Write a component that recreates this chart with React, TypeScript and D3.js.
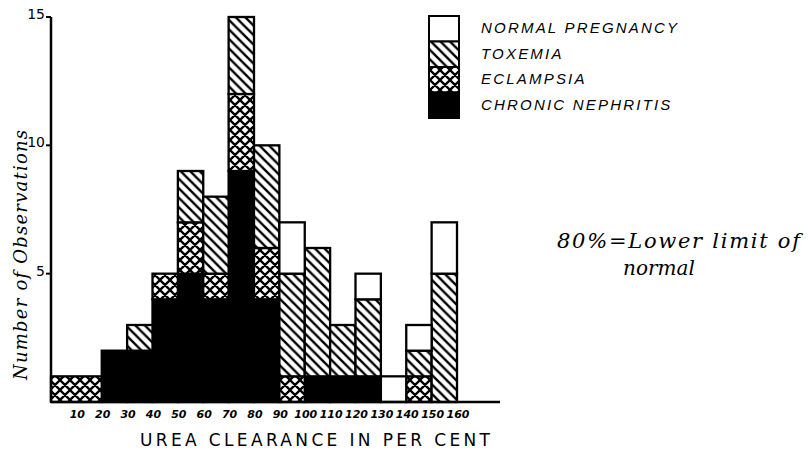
import React from "react";
import * as d3 from "d3";

const binStart = [0, 20, 30, 40, 50, 60, 70, 80, 90, 100, 110, 120, 130, 140, 150];
const binEnd = [20, 30, 40, 50, 60, 70, 80, 90, 100, 110, 120, 130, 140, 150, 160];
const chronicNephritis = [0, 2, 2, 4, 5, 4, 9, 4, 0, 1, 1, 1, 0, 0, 0];
const eclampsia = [1, 0, 0, 1, 2, 1, 3, 2, 1, 0, 0, 0, 0, 1, 0];
const toxemia = [0, 0, 1, 0, 2, 3, 3, 4, 4, 5, 2, 3, 0, 1, 5];
const normalPregnancy = [0, 0, 0, 0, 0, 0, 0, 0, 2, 0, 0, 1, 1, 1, 2];
const seriesKeys = ["chronic", "eclampsia", "toxemia", "normal"];
const legendLabels = ["NORMAL PREGNANCY", "TOXEMIA", "ECLAMPSIA", "CHRONIC NEPHRITIS"];
const legendKeys = ["normal", "toxemia", "eclampsia", "chronic"];
const xTicks = [10, 20, 30, 40, 50, 60, 70, 80, 90, 100, 110, 120, 130, 140, 150, 160];
const yTicks = [5, 10, 15];

const fills: Record<string, string> = {
  chronic: "#000",
  eclampsia: "url(#cross)",
  toxemia: "url(#diag)",
  normal: "#fff",
};

export default function App() {
  const W = 808, H = 458;
  const x = d3.scaleLinear().domain([0, 160]).range([51, 457]);
  const y = d3.scaleLinear().domain([0, 15]).range([402, 17]);

  const rows = binStart.map((s, i) => ({
    start: s,
    end: binEnd[i],
    chronic: chronicNephritis[i],
    eclampsia: eclampsia[i],
    toxemia: toxemia[i],
    normal: normalPregnancy[i],
  }));
  const stacked = d3.stack<any>().keys(seriesKeys)(rows);

  const ly = d3.scaleBand().domain(legendLabels).range([16, 118]).paddingInner(0);

  return (
    <svg width={W} height={H} style={{ display: "block", position: "absolute", left: 0, top: 0, background: "#fff" }}>
      <defs>
        <pattern id="diag" patternUnits="userSpaceOnUse" width="9.5" height="9.5">
          <rect width="9.5" height="9.5" fill="#fff" />
          <path d="M-2,-2 L11.5,11.5 M-2,7.5 L2,11.5 M7.5,-2 L11.5,2" stroke="#000" strokeWidth="2.4" />
        </pattern>
        <pattern id="cross" patternUnits="userSpaceOnUse" width="10" height="10">
          <rect width="10" height="10" fill="#fff" />
          <path d="M-2,-2 L12,12 M-2,8 L2,12 M8,-2 L12,2 M-2,12 L12,-2 M-2,2 L2,-2 M8,12 L12,8" stroke="#000" strokeWidth="2.3" />
        </pattern>
      </defs>
      <rect width={W} height={H} fill="#fff" />

      {stacked.map((layer) =>
        layer.map((d, i) => {
          const v = d[1] - d[0];
          if (v <= 0) return null;
          const r = rows[i];
          return (
            <rect
              key={layer.key + i}
              x={x(r.start)}
              y={y(d[1])}
              width={x(r.end) - x(r.start)}
              height={y(d[0]) - y(d[1])}
              fill={fills[layer.key]}
              stroke="#000"
              strokeWidth={2.3}
            />
          );
        })
      )}

      <line x1={x(0)} x2={500} y1={y(0)} y2={y(0)} stroke="#000" strokeWidth={2.5} />
      <line x1={x(0)} x2={x(0)} y1={y(0)} y2={y(15)} stroke="#000" strokeWidth={2.5} />
      {yTicks.map((t) => (
        <g key={t}>
          <line x1={x(0) - 5} x2={x(0)} y1={y(t)} y2={y(t)} stroke="#000" strokeWidth={2} />
          <text x={x(0) - 6} y={y(t) - 3} dy="0.35em" textAnchor="end" fontFamily="DejaVu Sans" fontSize={14} fill="#000">
            {t}
          </text>
        </g>
      ))}
      {xTicks.map((t) => (
        <text key={t} x={x(t) + 1} y={414} dy="0.35em" textAnchor="middle" fontFamily="DejaVu Sans" fontStyle="italic" fontWeight="bold" fontSize={11} fill="#000">
          {t}
        </text>
      ))}

      <text x={140} y={440} dy="0.35em" textLength={350} lengthAdjust="spacing" fontFamily="DejaVu Sans" fontSize={17} fill="#000">
        UREA  CLEARANCE  IN  PER  CENT
      </text>
      <text
        transform={`translate(21,255) rotate(-90)`}
        dy="0.35em"
        textAnchor="middle"
        textLength={250}
        lengthAdjust="spacing"
        fontFamily="DejaVu Serif"
        fontStyle="italic"
        fontSize={18}
        fill="#000"
      >
        Number of Observations
      </text>

      {legendLabels.map((lab, i) => {
        const key = legendKeys[i];
        return (
          <g key={lab}>
            <rect x={429} y={ly(lab)} width={30} height={ly.bandwidth()} fill={fills[key]} stroke="#000" strokeWidth={2} />
            <text x={481} y={(ly(lab) as number) + ly.bandwidth() / 2 - 1} dy="0.35em" fontFamily="Liberation Sans" fontStyle="italic" fontSize={15} letterSpacing={2.2} fill="#000">
              {lab}
            </text>
          </g>
        );
      })}

      <text x={557} y={241} dy="0.35em" textLength={243} lengthAdjust="spacing" fontFamily="DejaVu Serif" fontStyle="italic" fontSize={21} fill="#000">
        80%=Lower limit of
      </text>
      <text x={659} y={268} dy="0.35em" textAnchor="middle" fontFamily="DejaVu Serif" fontStyle="italic" fontSize={20} fill="#000">
        normal
      </text>
    </svg>
  );
}
